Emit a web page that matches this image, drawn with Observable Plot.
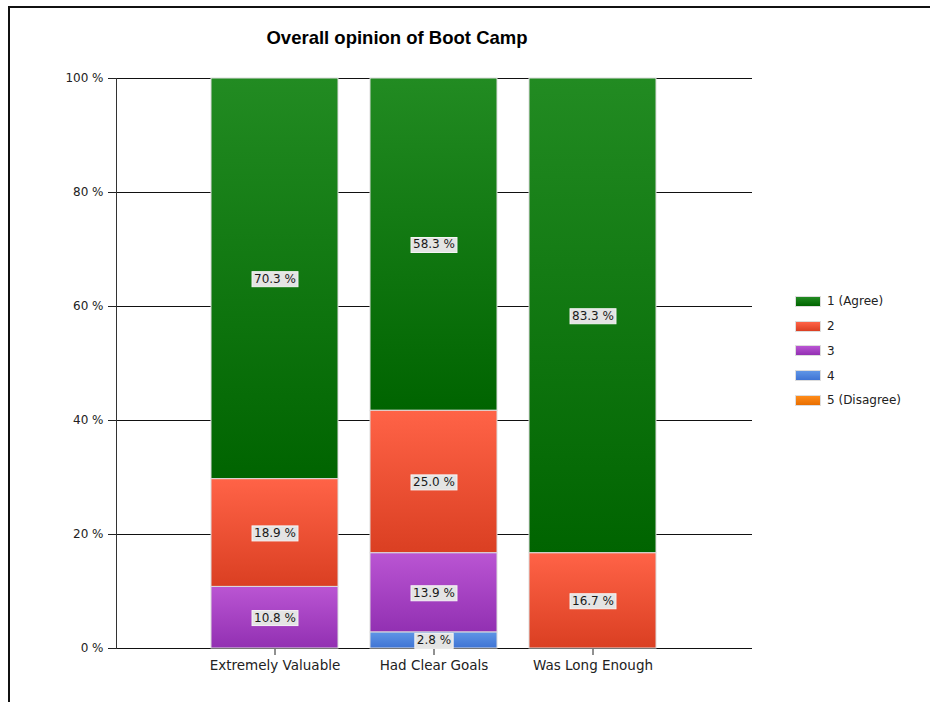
<!DOCTYPE html>
<html><head><meta charset="utf-8">
<script src="https://cdn.jsdelivr.net/npm/d3@7"></script>
<script src="https://cdn.jsdelivr.net/npm/@observablehq/plot@0.6"></script>
<style>
body{margin:0;background:#fff;font-family:"DejaVu Sans",Verdana,sans-serif;}
#frame{position:absolute;left:8px;top:6px;width:1000px;height:800px;border-left:2px solid #111;border-top:2px solid #111;}
#title{position:absolute;left:0;top:27px;width:794px;text-align:center;font-family:"Liberation Sans",Arial,sans-serif;font-weight:bold;font-size:18.5px;color:#000;}
#chart{position:absolute;left:0;top:60px;}
#legend{position:absolute;left:795px;top:289px;font-size:12px;color:#222;}
.item{height:24.75px;display:flex;align-items:center;}
.sw{width:26px;height:11px;margin-right:6px;border:1px solid #ddd;box-sizing:border-box}
</style>
</head><body>
<div id="frame"></div>
<div id="title">Overall opinion of Boot Camp</div>
<div id="chart"></div>
<div id="legend"></div>
<script>
const categories = ["Extremely Valuable", "Had Clear Goals", "Was Long Enough"];
const seriesNames = ["1 (Agree)", "2", "3", "4", "5 (Disagree)"];
const agree1 = [70.3, 58.3, 83.3];
const level2 = [18.9, 25.0, 16.7];
const level3 = [10.8, 13.9, 0];
const level4 = [0, 2.8, 0];
const disagree5 = [0, 0, 0];
const yTicks = [0, 20, 40, 60, 80, 100];
const gradTop = ["#228B22", "#FF6347", "#BA55D3", "#5F95E6", "#FF8C1A"];
const gradBottom = ["#006400", "#DA3F22", "#9230B2", "#3F74D4", "#E86E00"];

const allSeries = [agree1, level2, level3, level4, disagree5];
const rows = [];
seriesNames.forEach((s, si) => categories.forEach((c, ci) => {
  const v = allSeries[si][ci];
  if (v > 0) rows.push({category: c, series: s, value: v});
}));
const order = seriesNames.slice().reverse();
const gradIds = seriesNames.map((s, i) => "grad" + i);

const plot = Plot.plot({
  width: 930, height: 620,
  marginLeft: 116, marginRight: 178, marginTop: 18, marginBottom: 32,
  style: {fontFamily: "DejaVu Sans, Verdana, sans-serif", fontSize: "12px", color: "#222", background: "transparent", overflow: "visible"},
  x: {domain: categories, paddingInner: 0.2, paddingOuter: 0.6, label: null, tickSize: 7, tickPadding: 5},
  y: {domain: [0, 100], ticks: yTicks, tickFormat: d => d + " %", label: null, tickSize: 8, tickPadding: 5},
  color: {domain: seriesNames, range: gradIds.map(id => `url(#${id})`)},
  marks: [
    Plot.ruleY(yTicks, {stroke: "#111", strokeWidth: 1}),
    Plot.frame({anchor: "left", stroke: "#333"}),
    Plot.barY(rows, {x: "category", y: "value", fill: "series", order, stroke: "#dcdcdc", strokeWidth: 1}),
    Plot.text(rows, Plot.stackY({x: "category", y: "value", z: "series", order,
      text: d => d.value.toFixed(1) + " %", fill: "#1a1a1a", fontSize: 12}))
  ]
});
document.getElementById("chart").appendChild(plot);

const svg = d3.select(plot);
svg.selectAll('g[aria-label="x-axis tick label"] text, g[aria-label="x-axis"] text')
  .style("font-size", "13.5px");

const defs = svg.insert("defs", ":first-child");
gradIds.forEach((id, i) => {
  const g = defs.append("linearGradient").attr("id", id)
    .attr("x1", 0).attr("y1", 0).attr("x2", 0).attr("y2", 1);
  g.append("stop").attr("offset", "0%").attr("stop-color", gradTop[i]);
  g.append("stop").attr("offset", "100%").attr("stop-color", gradBottom[i]);
});

svg.selectAll('g[aria-label="text"] text').each(function() {
  const b = this.getBBox();
  const r = document.createElementNS("http://www.w3.org/2000/svg", "rect");
  r.setAttribute("x", b.x - 2);
  r.setAttribute("y", b.y);
  r.setAttribute("width", b.width + 4);
  r.setAttribute("height", b.height + 1);
  r.setAttribute("fill", "#e4e4e4");
  r.setAttribute("stroke", "#f5f5f5");
  const t = this.getAttribute("transform");
  if (t) r.setAttribute("transform", t);
  this.parentNode.insertBefore(r, this);
});

const legend = d3.select("#legend");
seriesNames.forEach((s, i) => {
  const it = legend.append("div").attr("class", "item");
  it.append("div").attr("class", "sw")
    .style("background", `linear-gradient(${gradTop[i]}, ${gradBottom[i]})`);
  it.append("span").text(s);
});
</script>
</body></html>
